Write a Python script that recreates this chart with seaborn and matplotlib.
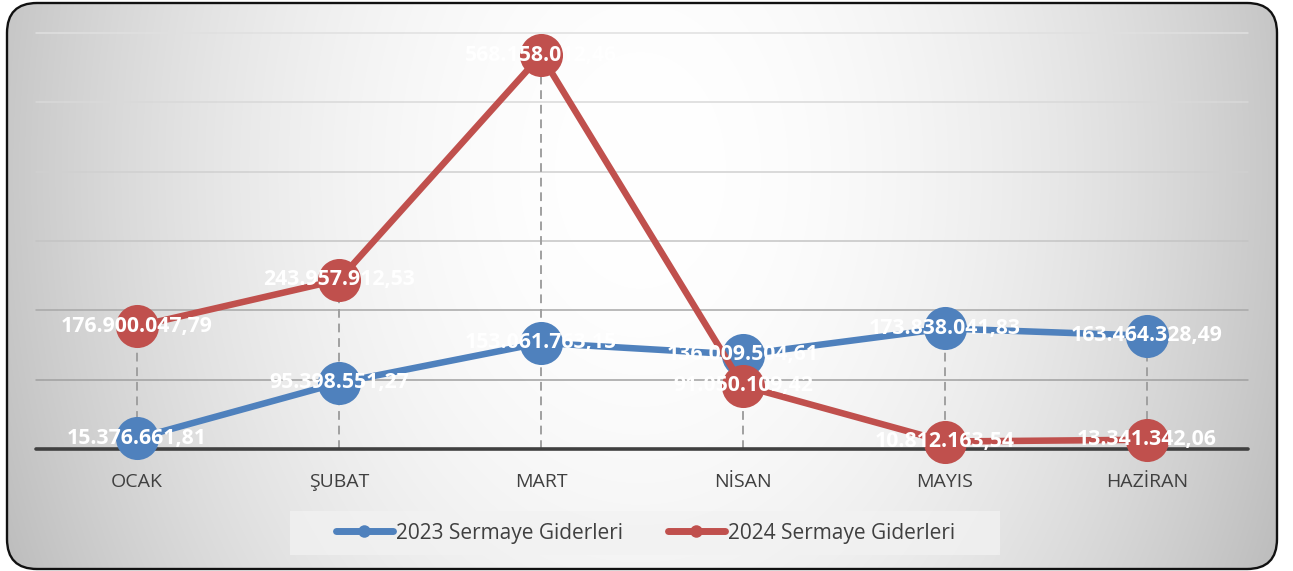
import numpy as np
import pandas as pd
import matplotlib
matplotlib.use("Agg")
import matplotlib.pyplot as plt
import seaborn as sns
from matplotlib.patches import FancyBboxPatch, Rectangle
from matplotlib.lines import Line2D
from matplotlib.transforms import IdentityTransform

# ---- data ----
months = ["OCAK", "ŞUBAT", "MART", "NİSAN", "MAYIS", "HAZİRAN"]
values_2023 = [15376661.81, 95398551.27, 153061763.15, 136009504.61, 173838041.83, 163464328.49]
values_2024 = [176900047.79, 243957912.53, 568158012.46, 91050109.42, 10812163.54, 13341342.06]
series_names = ["2023 Sermaye Giderleri", "2024 Sermaye Giderleri"]
colors = ["#4F81BD", "#C0504D"]
grid_values = [100e6, 200e6, 300e6, 400e6, 500e6, 600e6]

def tr_fmt(v):
    s = f"{v:,.2f}"
    return s.replace(",", "X").replace(".", ",").replace("X", ".")

df = pd.DataFrame({
    "Ay": months * 2,
    "Değer": values_2023 + values_2024,
    "Seri": [series_names[0]] * len(months) + [series_names[1]] * len(months),
})

sns.set_theme(style="white")
plt.rcParams["font.family"] = ["Open Sans", "DejaVu Sans"]

W, H = 1293, 571
fig = plt.figure(figsize=(W / 100, H / 100), dpi=100)
fig.patch.set_facecolor("white")

# ---- background gradient with rounded border ----
bg = fig.add_axes([0, 0, 1, 1])
bg.set_axis_off()
yy, xx = np.mgrid[0:H, 0:W]
d = np.sqrt(((xx - 640) / 650.0) ** 2 + ((yy - 170) / 900.0) ** 2)
v = np.clip(255 - 58 * d ** 2.0, 0, 255) / 255.0
img = np.dstack([v, v, v])
im = bg.imshow(img, extent=[0, W, H, 0], aspect="auto", zorder=0)
bg.set_xlim(0, W)
bg.set_ylim(H, 0)
patch = FancyBboxPatch((7, 2), 1270, 566, boxstyle="round,pad=0,rounding_size=30",
                       transform=IdentityTransform(), facecolor="none",
                       edgecolor="#111111", linewidth=1.7, zorder=5)
fig.patches.append(patch)
im.set_clip_path(patch)

# legend background box
fig.patches.append(Rectangle((290, H - 555), 710, 44, transform=IdentityTransform(),
                             facecolor="#f2f2f2", edgecolor="none", alpha=0.75, zorder=1))

# ---- main axes ----
x0, x1, ytop, ybot = 36, 1248, 33, 449
ax = fig.add_axes([x0 / W, (H - ybot) / H, (x1 - x0) / W, (ybot - ytop) / H])
ax.patch.set_alpha(0)
for s in ax.spines.values():
    s.set_visible(False)

grid_cols = ["#a0a0a0", "#a8a8a8", "#c4c4c4", "#d0d0d0", "#d9d9d9", "#e0e0e0"]
for g, c in zip(grid_values, grid_cols):
    ax.axhline(g, color=c, linewidth=1.1, zorder=1)

# drop lines
for i in range(len(months)):
    top = max(values_2023[i], values_2024[i])
    ax.plot([i, i], [0, top], color="#a0a0a0", linewidth=1.4,
            linestyle=(0, (4.5, 3)), zorder=1.5)

sns.lineplot(data=df, x="Ay", y="Değer", hue="Seri", palette=colors,
             hue_order=series_names, marker="o", markersize=31,
             markeredgewidth=0, linewidth=4.7, sort=False, legend=False,
             ax=ax, zorder=3)
for ln in ax.lines:
    ln.set_clip_on(False)

ax.axhline(0, color="#404040", linewidth=2.6, zorder=2.5, clip_on=False)

for vals in (values_2023, values_2024):
    for i, val in enumerate(vals):
        ax.text(i, val, tr_fmt(val), ha="center", va="center", color="white",
                fontsize=15.3, fontweight="bold", zorder=10, clip_on=False)

ax.set_xlim(-0.5, len(months) - 0.5)
ax.set_ylim(0, 600e6)
ax.set_yticks([])
ax.set_xticks(range(len(months)))
ax.set_xticklabels(months)
ax.tick_params(axis="x", length=0, pad=17, labelsize=14, labelcolor="#404040")
ax.set_xlabel("")
ax.set_ylabel("")

handles = [Line2D([0], [0], color=c, linewidth=5, marker="o", markersize=9,
                  markeredgewidth=0) for c in colors]
leg = fig.legend(handles, series_names, loc="center", bbox_to_anchor=(0.4992, 1 - 533 / H),
                 ncol=2, frameon=False, fontsize=15, handlelength=2.74,
                 columnspacing=2.16, handletextpad=0.15, borderpad=0.2,
                 borderaxespad=0)
for t in leg.get_texts():
    t.set_color("#404040")

fig.savefig("out.png", dpi=100)
